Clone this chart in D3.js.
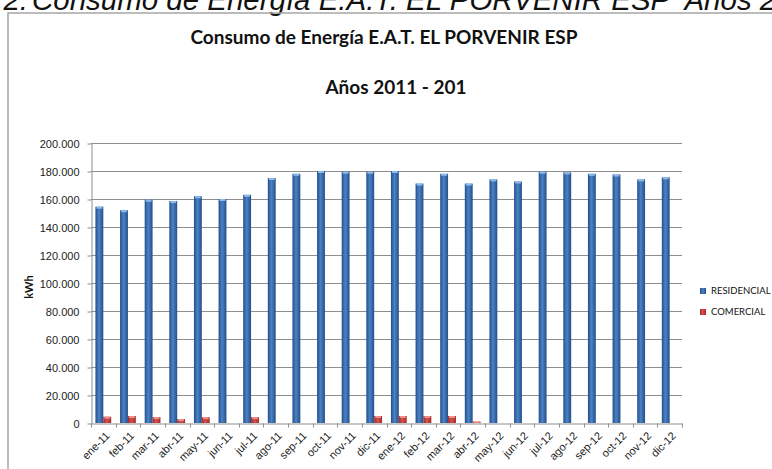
<!DOCTYPE html>
<meta charset="utf-8">
<style>
body { margin: 0; background: #fff; }
svg { display: block; }
.grid line { stroke: #8e8e8e; stroke-width: 1; }
.axis path, .axis line { stroke: #8e8e8e; }
.axis text { font-family: "Liberation Sans", Arial, sans-serif; font-size: 11px; fill: #222; }
.ttl { font-family: Lato, "Open Sans", sans-serif; font-weight: bold; fill: #111; }
.leg { font-family: Lato, "Open Sans", sans-serif; font-size: 9.5px; fill: #111; }
.cap { font-family: "Liberation Sans", Arial, sans-serif; font-style: italic; fill: #111; white-space: pre; }
</style>
<svg width="772" height="469"></svg>
<script src="https://d3js.org/d3.v7.min.js"></script>
<script>

var months = ["ene-11","feb-11","mar-11","abr-11","may-11","jun-11","jul-11","ago-11","sep-11","oct-11","nov-11","dic-11",
              "ene-12","feb-12","mar-12","abr-12","may-12","jun-12","jul-12","ago-12","sep-12","oct-12","nov-12","dic-12"];
var residencial = [154500,152000,159500,158500,162000,160000,163000,175000,178000,180000,179500,179500,
                   180000,171000,178000,171000,174000,172500,179500,179000,178000,177500,174000,175500];
var comercial = [4500,5000,4200,2800,4200,0,4200,0,0,0,0,5000,
                 5000,5000,5000,1000,0,0,0,0,0,0,0,0];
var series = ["RESIDENCIAL","COMERCIAL"];
var yTicks = [0,20000,40000,60000,80000,100000,120000,140000,160000,180000,200000];

var svg = d3.select("svg");
var pLeft = 91, pRight = 682, pTop = 143, pBottom = 423;

var es = d3.formatLocale({decimal: ",", thousands: ".", grouping: [3], currency: ["$", ""]});
var fmt = es.format(",.0f");

var x = d3.scaleBand().domain(months).range([pLeft, pRight]);
var x1 = d3.scaleBand().domain(series)
    .range([x.bandwidth() * 0.18, x.bandwidth() * 0.82]);
var y = d3.scaleLinear().domain([0, 200000]).range([pBottom, pTop]);

// gradients for the shaded bars
var defs = svg.append("defs");
function grad(id, edge, mid) {
  var g = defs.append("linearGradient").attr("id", id)
    .attr("x1", "0%").attr("x2", "100%").attr("y1", "0%").attr("y2", "0%");
  g.append("stop").attr("offset", "0%").attr("stop-color", edge);
  g.append("stop").attr("offset", "45%").attr("stop-color", mid);
  g.append("stop").attr("offset", "100%").attr("stop-color", edge);
}
grad("gBlue", "#234f8a", "#4c82c6");
grad("gRed", "#9c2b29", "#d9514d");
var fills = {RESIDENCIAL: "url(#gBlue)", COMERCIAL: "url(#gRed)"};
var caps = {RESIDENCIAL: "#8dbbea", COMERCIAL: "#ef8f8c"};

// cropped caption at the very top: "Consumo" starts near x=32, "2011" near x=760
var capMain = "Consumo de Energía E.A.T. EL PORVENIR ESP  Años 2011 - 2012";
var cap = svg.append("text").attr("class", "cap").attr("y", 10)
  .style("font-size", "29px").text(capMain);
var lead = cap.node().getSubStringLength(0, capMain.indexOf("2011"));
var capSize = 29 * (760 - 32) / lead;
cap.style("font-size", capSize + "px").attr("x", 32);
svg.append("text").attr("class", "cap").attr("x", 28).attr("y", 10)
  .attr("text-anchor", "end").style("font-size", capSize + "px")
  .text("Gráfico 6.2:");

// chart frame
svg.append("path")
  .attr("d", "M8,480V13H780")
  .attr("fill", "none").attr("stroke", "#a6a6a6").attr("stroke-width", 1.5);

svg.append("text").attr("class", "ttl")
  .attr("x", 384).attr("y", 44).attr("text-anchor", "middle")
  .style("font-size", "19px")
  .text("Consumo de Energía E.A.T. EL PORVENIR ESP");
svg.append("text").attr("class", "ttl")
  .attr("x", 396).attr("y", 94).attr("text-anchor", "middle")
  .style("font-size", "19px")
  .text("Años 2011 - 201");

// gridlines
svg.append("g").attr("class", "grid")
  .selectAll("line").data(yTicks.slice(1)).enter().append("line")
  .attr("x1", pLeft).attr("x2", pRight)
  .attr("y1", function(d) { return Math.round(y(d)) + 0.5; })
  .attr("y2", function(d) { return Math.round(y(d)) + 0.5; });

// y axis
svg.append("g").attr("class", "axis")
  .attr("transform", "translate(" + (pLeft + 0.5) + ",0.5)")
  .call(d3.axisLeft(y).tickValues(yTicks).tickFormat(fmt).tickSize(4).tickSizeOuter(0).tickPadding(8));

svg.append("text")
  .attr("transform", "translate(33,287) rotate(-90)")
  .attr("text-anchor", "middle")
  .style("font-family", "Lato, 'Open Sans', sans-serif")
  .style("font-weight", "bold").style("font-size", "11px").style("fill", "#111")
  .text("kWh");

// bars
var data = months.map(function(m, i) {
  return {month: m, values: [{key: "RESIDENCIAL", v: residencial[i]}, {key: "COMERCIAL", v: comercial[i]}]};
});
var grp = svg.append("g").selectAll("g").data(data).enter().append("g")
  .attr("transform", function(d) { return "translate(" + x(d.month) + ",0)"; });
var bar = grp.selectAll("g").data(function(d) { return d.values.filter(function(e) { return e.v > 0; }); })
  .enter().append("g");
bar.append("rect")
  .attr("x", function(d) { return x1(d.key); })
  .attr("y", function(d) { return y(d.v); })
  .attr("width", x1.bandwidth())
  .attr("height", function(d) { return y(0) - y(d.v); })
  .attr("fill", function(d) { return fills[d.key]; });
bar.append("rect")
  .attr("x", function(d) { return x1(d.key) + 1; })
  .attr("y", function(d) { return y(d.v); })
  .attr("width", x1.bandwidth() - 2)
  .attr("height", function(d) { return Math.min(2, y(0) - y(d.v)); })
  .attr("fill", function(d) { return caps[d.key]; });

// x axis
var gx = svg.append("g").attr("class", "axis")
  .attr("transform", "translate(0," + (pBottom + 0.5) + ")")
  .call(d3.axisBottom(x).tickSize(0).tickSizeOuter(0));
gx.selectAll(".tick text")
  .attr("x", 0).attr("y", 0).attr("dy", 0)
  .attr("text-anchor", "end")
  .style("font-size", "11px")
  .attr("transform", "translate(7,13) rotate(-45)");
gx.selectAll(".sep").data(months.concat(["end"])).enter().append("line")
  .attr("x1", function(d, i) { return Math.round(pLeft + i * x.bandwidth()) + 0.5; })
  .attr("x2", function(d, i) { return Math.round(pLeft + i * x.bandwidth()) + 0.5; })
  .attr("y1", 0).attr("y2", 4)
  .attr("stroke", "#8e8e8e");

// legend
var leg = svg.append("g").selectAll("g").data(series).enter().append("g")
  .attr("transform", function(d, i) { return "translate(700," + (288 + i * 21) + ")"; });
leg.append("rect").attr("width", 6).attr("height", 6)
  .attr("fill", function(d) { return fills[d]; });
leg.append("text").attr("class", "leg")
  .attr("x", 11).attr("y", 3).attr("dy", "0.35em")
  .text(function(d) { return d; });

</script>
